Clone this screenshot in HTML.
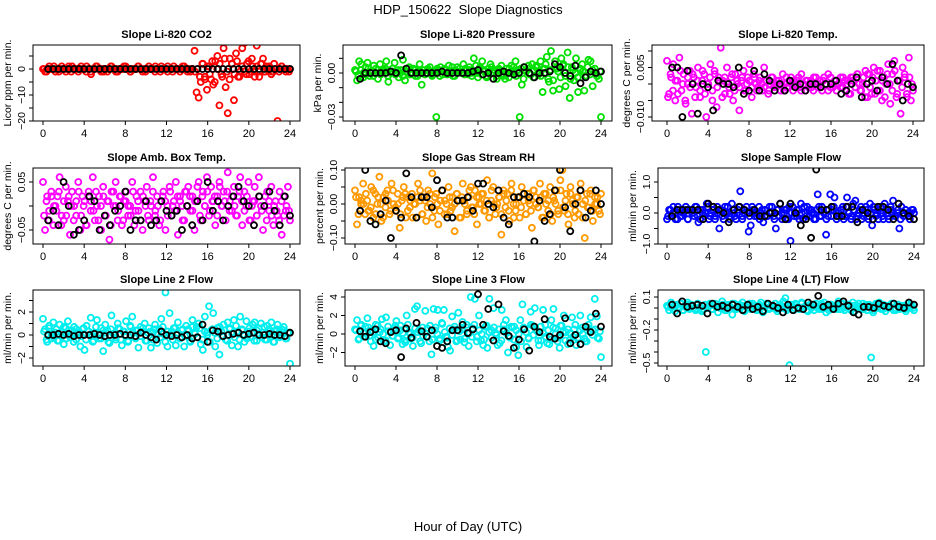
<!DOCTYPE html>
<html><head><meta charset="utf-8">
<style>
html,body{margin:0;padding:0;background:#fff;}
svg{display:block;font-family:"Liberation Sans",Arial,sans-serif;}
text{white-space:pre;}
</style></head>
<body>
<svg id="chart" width="936" height="540" viewBox="0 0 936 540">
<text x="468" y="14" text-anchor="middle" font-size="13" xml:space="preserve">HDP_150622  Slope Diagnostics</text>
<text x="468" y="531" text-anchor="middle" font-size="13">Hour of Day (UTC)</text>
</svg>
<script>
// ---- data (colored = all slopes, core = dense central slopes, black = selected slopes) ----
const xTicks = [0,4,8,12,16,20,24];
const co2Vals = [0,-1,0,1,0,0,-1,0,0,1,0,-1,0,0,1,0,0,-1,0,0,0,1,0,-1,0,0,1,0,-1,0,0,-1,0,1,0,0,-1,0,0,1,0,0,-1,0,0,0,1,0,-1,0,0,1,0,0,-1,0,0,1,0,0,-1,0,0,1,0,0,-1,0,1,0,0,-1,0,7,-9,-11,-5,2,-3,-8,1,-4,-6,3,5,-14,-2,8,-7,-17,4,2,-12,6,-3,-1,8,10,-2,3,-1,1,-3,9,-1,2,4,-1,0,1,-2,-1,0,-20,0,1,0,-1,0,0];
const co2Core = [0,-1,0,0,1,0,-1,0,0,0,1,-1,0,0,0,1,0,-1,0,-2,0,1,0,0,-1,0,0,1,0,-1,0,0,0,1,0,-1,0,0,1,0,0,-1,0,0,0,1,0,-1,0,0,1,0,-1,0,0,0,1,0,-1,0,0,-1,0,-3,2,-4,1,-2,3,-5,0,2,-3,4,-1,-4,2,-2,3,-3,1,-1,2,-2,4,-1,1,-3,2,-1,1,0,-1,2,0,-1,1,0,0,-1];
const co2Black = [0,0,0,0,0,0,0,0,0,0,0,0,0,0,0,0,0,0,0,0,0,0,0,0,0,0,0,0,0,0,0,0,0,0,0,0,0,0,0,0,0,0,0,0,0,0,0,0];
const presVals = [2,-5,8,6,-3,4,7,-2,1,5,3,-4,6,0,2,8,-6,1,3,7,0,-3,2,9,-5,1,4,0,3,-2,1,6,-8,2,0,3,1,-2,0,-30,2,4,-1,3,0,5,1,-2,2,4,1,0,6,3,-1,2,0,10,5,-3,4,8,1,-2,3,6,0,2,-4,3,1,-2,-4,0,3,5,0,8,2,-30,-8,4,1,3,-1,6,2,5,-1,8,-13,3,11,-6,15,-12,8,3,-11,10,6,-9,14,-17,4,-5,10,-13,2,6,-12,-2,9,8,-9,3,-2,-4,-30];
const presCore = [1,-2,2,0,-1,3,1,-2,0,2,-1,1,3,-2,0,1,-1,2,0,-2,1,3,-1,0,2,-2,1,0,-1,2,4,-1,0,3,-2,1,2,-1,0,4,-2,1,3,0,-1,2,4,-2,1,0,3,-1,2,-3,1,4,0,-2,2,5,-1,3,-3,1,4,-2,0,3,-4,2,5,-1,-3,4,1,-2,3,6,-4,2,-5,3,1,-3,5,-2,4,-4,2,0,-3,3,1,-2,4,-1,2,0,-2,1];
const presBlack = [-4,0,0,0,0,0,1,0,12,3,0,0,0,0,0,0,1,0,0,0,0,0,1,2,-1,0,-4,0,1,0,-1,0,4,0,-3,0,0,1,6,4,0,-2,5,-7,-3,1,0,1];
const tempVals = [7,-3,2,6,-5,1,8,-2,3,-6,0,4,-9,2,-1,5,-4,1,3,-10,0,6,-2,4,-7,2,11,1,-3,5,-1,2,-5,3,0,-8,1,4,-2,2,6,-4,3,0,-1,2,-2,5,1,-3,0,2,-1,1,0,-2,3,0,-1,1,2,-2,0,1,-1,3,0,-2,1,0,-1,2,0,-1,1,-2,2,0,3,-1,0,1,-2,0,2,-1,1,0,-3,2,1,-1,3,0,-2,2,4,-4,3,-3,5,1,-2,4,-5,2,0,6,-6,3,7,-4,1,-9,5,2,-3,8,-5,-2];
const tempCore = [-4,3,-2,1,-3,4,0,-5,2,-1,3,-4,1,-2,4,-3,0,2,-5,3,-1,1,-4,2,0,-3,3,-2,1,-1,2,-2,0,1,-1,2,-2,1,0,-1,1,-2,2,0,-1,1,0,-2,2,-1,0,1,-1,2,-2,0,1,-1,1,-2,2,0,-1,1,0,-2,2,-1,1,0,-1,2,-2,1,-3,2,-1,3,-2,0,-4,3,-1,2,-3,4,-2,1,-4,3,0,-2,4,-3,1,-1,3,-4,2,0];
const tempBlack = [5,5,-10,4,0,-9,0,-1,-8,1,0,0,-1,5,-3,-2,4,-2,3,1,-2,0,-2,1,-1,0,-2,0,0,-1,0,0,1,-3,-2,0,2,-4,0,1,-2,2,0,6,1,-5,0,-1];
const ambVals = [5,-5,2,-1,3,-4,0,2,6,-2,-3,4,1,-6,3,0,-2,5,-5,2,1,-4,3,-1,6,-3,0,2,-5,4,-2,1,-7,3,0,5,-3,2,-4,1,3,-2,0,5,-4,2,-1,3,-5,1,4,-3,0,6,-2,2,-4,1,3,-5,0,4,-2,1,5,-6,2,0,-3,3,4,-1,2,-5,1,5,-3,3,0,6,-2,4,1,-4,2,5,0,3,-3,7,1,-1,4,-2,2,6,-4,3,0,5,-3,1,4,-2,6,0,-5,2,3,-1,4,-4,1,-2,3,-6,2,-1,4,-3];
const ambCore = [-2,1,-3,2,0,-1,3,-4,1,-2,2,0,-3,1,3,-2,0,-4,2,1,-1,3,-3,0,2,-2,1,-4,3,0,-1,2,-3,1,0,-2,3,-1,1,-3,2,0,-2,1,3,-1,0,-3,2,1,-2,3,0,-1,2,1,-3,3,0,2,-1,1,4,-2,2,0,3,-1,1,2,-2,4,0,1,3,-1,2,0,-2,3,1,-1,2,-3,0,1,-2,2,-1,0,-3,1,-2,0,-1,-3,1,-2,0,-1];
const ambBlack = [-3,-1,-4,5,0,-6,-5,-3,2,1,-5,-2,-4,-1,0,3,-5,-3,-3,1,-4,-3,1,-1,-2,-1,-5,0,-4,1,-3,5,-1,1,-3,0,2,4,1,0,-4,2,0,3,-1,-4,2,-2];
const rhVals = [4,-6,2,0,6,-3,1,-2,5,-4,3,0,8,-5,2,-1,4,-3,6,0,-2,3,-7,1,5,-4,2,-1,3,0,-4,6,1,-3,2,-5,4,0,9,-2,3,-6,1,4,-3,0,5,-2,2,-8,3,1,-4,6,0,-3,2,5,-1,4,-6,2,0,3,-2,7,-4,1,5,-3,0,2,-9,4,-1,3,-5,6,0,-2,2,-4,5,1,-3,3,0,-7,4,2,-1,6,-4,3,0,-2,5,-5,1,4,-3,7,10,-2,3,-6,5,1,-4,2,-3,6,0,-10,3,-1,4,-5,2,0,-2,3];
const rhCore = [2,-3,1,0,3,-2,-1,4,-3,2,0,-4,3,1,-2,4,-1,0,-3,2,3,-2,1,-4,0,2,4,-3,1,-1,3,-4,2,0,-2,4,1,-3,2,-1,0,3,-4,2,1,-2,4,-1,-3,2,0,3,-2,1,-4,4,0,-1,2,-3,3,1,-2,4,-4,0,2,-1,3,-3,1,-2,4,0,-1,2,-4,3,1,-3,2,0,-2,4,-1,1,-3,3,0,-2,2,4,-4,1,-1,3,-2,0,2,-3];
const rhBlack = [-2,10,-5,-6,-3,1,-10,-2,-4,9,2,-4,2,2,-1,7,4,-4,-4,1,1,2,-2,6,6,0,-1,4,-4,-6,2,2,3,2,-11,1,-5,-3,4,10,-1,-8,0,4,-4,-2,4,0];
const sampleVals = [-2,1,-1,2,0,-2,1,-1,0,2,-2,1,0,-1,2,-3,1,0,-1,3,-2,0,1,-1,2,-5,1,-2,0,2,-1,3,0,-2,1,7,-1,0,2,-6,-4,1,0,-1,2,0,-3,1,-1,2,0,-1,-5,1,3,-2,0,1,-2,-9,2,0,-1,1,3,-2,0,2,-1,1,0,-2,6,-1,2,0,-7,-1,6,1,5,-2,0,1,2,-1,5,0,-2,3,4,-1,1,-2,0,2,-1,3,-4,1,0,-2,2,-1,3,0,-2,1,4,-1,0,-5,2,-1,1,0,-2,1,0];
const sampleCore = [-1,1,0,-2,2,-1,0,1,-2,1,0,2,-1,-2,1,0,2,-1,1,-2,0,1,-1,2,0,-2,1,-1,0,2,-2,1,0,-1,2,-1,0,-2,1,1,-1,0,2,-2,1,-1,0,1,-2,2,0,-1,1,-2,0,2,-1,1,0,-2,1,2,-1,0,-2,1,-1,2,0,-1,1,-2,2,0,-1,1,-2,0,2,-1,1,-2,0,2,-1,1,0,-2,1,-1,2,0,-1,1,-2,0,1,-1,0,1];
const sampleBlack = [-1,1,1,1,1,1,-2,3,2,1,0,-3,1,2,1,0,1,-1,-1,0,0,3,-2,3,0,-4,-2,-8,14,1,1,2,-1,-1,2,2,-3,1,0,-2,2,2,1,-2,3,0,-1,-2];
const line2Vals = [1.4,0.5,-0.6,0.8,-0.3,1.1,0.2,-0.5,0.9,0.3,-0.8,0.6,1.2,-0.2,0.4,0.7,-0.4,0.1,-1.0,0.5,-1.3,0.8,0.3,1.5,-0.6,0.2,1.3,-0.3,0.6,-1.4,0.9,0.4,-0.7,1.7,0.1,-0.4,1.0,0.5,-0.9,0.3,1.2,-0.6,0.8,1.6,-0.2,0.4,-1.1,0.7,0.3,1.0,-0.5,0.6,-1.1,0.2,0.9,-0.7,0.5,1.4,0.1,3.7,-1.0,1.9,0.3,0.6,-0.9,1.1,-0.3,0.4,-1.0,0.8,0.5,-0.6,1.3,0.2,0.7,1.0,-0.8,-1.3,1.6,0.2,2.5,0.4,1.9,-1.0,0.6,-1.7,0.3,0.9,-0.4,1.1,0.5,-0.9,1.3,0.8,-1.0,1.6,0.4,-0.6,1.2,0.3,-0.2,0.9,1.1,-0.5,0.6,1.0,0.2,-0.4,0.8,0.5,1.1,-0.6,0.3,0.9,-0.2,0.5,0.7,-0.3,0.2,-2.5];
const line2Core = [0.3,-0.4,0.6,0.1,-0.2,0.5,-0.5,0.2,0.7,-0.3,0.4,0.0,-0.6,0.5,0.2,-0.1,0.6,-0.4,0.3,0.1,-0.5,0.7,0.0,-0.3,0.4,0.2,-0.6,0.5,0.1,-0.2,0.6,-0.4,0.3,0.0,-0.5,0.7,0.2,-0.3,0.4,-0.1,0.6,-0.5,0.2,0.3,-0.4,0.5,0.1,-0.2,0.7,-0.6,0.3,0.0,-0.4,0.6,0.2,-0.3,0.5,-0.1,0.4,-0.5,0.7,0.1,-0.2,0.6,-0.4,0.3,0.0,-0.6,0.5,0.2,-0.3,0.7,-0.1,0.4,-0.5,0.6,0.1,-0.2,0.3,-0.4,0.5,0.0,-0.3,0.6,0.2,-0.5,0.4,0.1,-0.2,0.7,-0.4,0.3,0.0,-0.6,0.5,0.2,-0.1,0.4,-0.3,0.2];
const line2Black = [0,0,0.1,0,0.1,-0.1,0,0,0,0.1,0,-0.1,0,0,0.1,0,0,-0.1,0.2,0,-0.2,-0.4,0.3,0,-0.1,0,-0.2,0,-0.3,-0.2,0.9,-0.6,0.4,0.3,-0.1,0,0.1,0.2,0,0.1,0.2,0,0,0.1,0,0,-0.1,0.2];
const line3Vals = [0.5,1.5,-0.5,1.0,-0.3,0.8,1.7,-0.2,0.4,-1.3,-0.6,0.9,0.2,1.6,-0.8,1.8,0.3,-1.2,-0.2,0.6,1.4,-0.4,0.9,-1.1,-0.7,2.0,0.2,-0.5,-1.3,2.7,3.0,0.4,-1.0,-0.2,2.5,0.6,-0.8,-2.2,2.7,0.7,2.6,-0.5,1.2,2.6,-0.3,-1.4,-1.8,1.9,0.5,-0.8,2.3,-0.6,1.3,-0.9,1.0,-1.3,4.0,0.6,3.8,-0.3,2.0,-0.7,-1.2,0.8,-1.5,3.8,0.4,2.8,0.1,-1.2,-1.0,2.6,0.5,1.5,-2.0,-0.4,0.7,0.8,-1.4,-2.3,1.5,3.2,0.6,-1.4,-0.5,2.4,0.9,2.8,0.3,-1.2,-0.7,2.6,1.0,-1.0,-1.1,1.5,2.7,0.6,-0.8,-1.5,0.9,2.0,0.2,-1.1,-0.6,1.8,0.5,-1.2,-0.4,2.0,0.7,-0.5,-0.8,1.0,1.8,0.4,3.8,1.9,-0.5,-2.5];
const line3Core = [0.4,-0.6,0.9,0.1,-0.3,0.7,-0.8,0.2,1.0,-0.4,0.5,0.0,-0.7,0.8,0.3,-0.2,0.9,-0.5,0.4,0.1,-0.9,1.0,0.0,-0.4,0.6,0.2,-0.8,0.7,0.1,-0.3,0.9,-0.6,0.4,0.0,-0.7,1.1,0.2,-0.4,0.6,-0.1,0.8,-0.7,0.3,0.5,-0.5,0.7,0.1,-0.3,1.0,-0.8,0.4,0.0,-0.6,0.9,0.2,-0.4,0.7,-0.1,0.5,-0.7,1.0,0.1,-0.3,0.8,-0.6,0.4,0.0,-0.8,0.7,0.2,-0.4,1.0,-0.1,0.5,-0.7,0.8,0.1,-0.3,0.4,-0.6,0.7,0.0,-0.4,0.9,0.2,-0.7,0.5,0.1,-0.3,1.0,-0.5,0.4,0.0,-0.8,0.7,0.2,-0.1,0.5,-0.4,0.3];
const line3Black = [0.3,-0.3,0.2,0.5,-0.8,-1.0,0.2,0.4,-2.5,0.6,-0.4,1.2,0.3,-0.3,0.4,-1.3,-1.5,-0.8,0.4,0.4,1.0,0.1,0.5,4.3,1.0,2.7,-0.7,3.2,0.3,-0.2,-1.5,-0.6,0.5,-1.8,0.8,0.2,1.6,-0.3,-0.5,-0.1,1.7,-1.0,-0.1,-1.1,0.8,0.2,2.2,0.8];
const line4Vals = [2,-2,5,1,-3,3,0,4,-2,2,5,-1,3,0,-2,4,1,-3,-1,-40,0,4,-1,3,1,-4,2,6,0,-2,3,1,-6,4,-1,2,0,5,-3,1,3,-1,4,0,-2,2,5,-4,1,3,-1,2,0,4,-3,1,2,6,9,0,-52,3,-2,4,1,-1,5,0,2,-3,3,1,-2,4,0,2,-1,5,-4,1,3,0,2,-1,6,-1,4,-2,1,3,0,5,-3,2,1,-1,4,0,-2,3,-45,-4,2,0,5,-1,3,-3,2,1,4,-2,0,3,-1,2,1,-3,4,0,2,-2];
const line4Core = [1,3,-1,2,0,4,-2,1,3,0,2,-1,4,1,-2,3,0,2,-1,4,1,0,3,-2,2,1,4,-1,0,3,2,-2,1,4,0,2,-1,3,1,-2,4,0,2,1,-1,3,0,4,-2,1,2,0,3,-1,4,1,-2,2,0,3,1,-1,4,2,0,-2,3,1,2,-1,4,0,1,3,-2,2,0,4,1,-1,3,2,0,-2,4,1,3,-1,2,0,1,4,-2,3,0,2,-1,1,3,0];
const line4Black = [3,-5,6,1,2,3,2,-5,4,1,2,0,3,1,-2,3,-1,1,-3,4,2,0,-4,3,-2,0,-1,5,3,11,1,3,-1,4,6,2,-4,-6,1,1,0,4,2,1,4,1,0,5,3];

const svg = document.getElementById('chart');
const NS = 'http://www.w3.org/2000/svg';
function mk(tag, attrs){ const e=document.createElementNS(NS,tag); for(const k in attrs) e.setAttribute(k,attrs[k]); return e; }

const panels = [
 {key:'co2',title:'Slope Li-820 CO2',yl:'Licor ppm per min.',box:[33,45,300,121],x0:43,x24:290,ya:[0,69],yb:[-20,121],scale:1,ticks:[5,0,-5,-10,-15,-20],labs:{'0':'0','-10':'\u221210','-20':'\u221220'},col:'#ff0000',vals:co2Vals,core:co2Core,blk:co2Black},
 {key:'pressure',title:'Slope Li-820 Pressure',yl:'kPa per min.',box:[343,45,612,121],x0:355,x24:601,ya:[0,73],yb:[-0.03,117],scale:0.001,ticks:[0.01,0,-0.01,-0.02,-0.03],labs:{'0':'0.00','-0.03':'\u22120.03'},col:'#00e000',vals:presVals,core:presCore,blk:presBlack},
 {key:'temp',title:'Slope Li-820 Temp.',yl:'degrees C per min.',box:[652,45,924,121],x0:667,x24:913,ya:[0,84],yb:[-0.01,117],scale:0.001,ticks:[0.01,0.005,0,-0.005,-0.01],labs:{'0.005':'0.005','-0.01':'\u22120.010'},col:'#ff00ff',vals:tempVals,core:tempCore,blk:tempBlack},
 {key:'amb',title:'Slope Amb. Box Temp.',yl:'degrees C per min.',box:[33,168,300,244],x0:43,x24:290,ya:[0,206],yb:[0.05,182],scale:0.01,ticks:[0.05,0,-0.05],labs:{'0.05':'0.05','-0.05':'\u22120.05'},col:'#ff00ff',vals:ambVals,core:ambCore,blk:ambBlack},
 {key:'rh',title:'Slope Gas Stream RH',yl:'percent per min.',box:[345,168,612,244],x0:355,x24:601,ya:[0,204],yb:[0.1,170],scale:0.01,ticks:[0.1,0.05,0,-0.05,-0.1],labs:{'0.1':'0.10','0':'0.00','-0.1':'\u22120.10'},col:'#ff9900',vals:rhVals,core:rhCore,blk:rhBlack},
 {key:'sample',title:'Slope Sample Flow',yl:'ml/min per min.',box:[658,168,924,244],x0:667,x24:914,ya:[0,213],yb:[1,182],scale:0.1,ticks:[1,0.5,0,-0.5,-1],labs:{'1':'1.0','0':'0.0','-1':'\u22121.0'},col:'#0000ff',vals:sampleVals,core:sampleCore,blk:sampleBlack},
 {key:'line2',title:'Slope Line 2 Flow',yl:'ml/min per min.',box:[33,290,300,366],x0:43,x24:290,ya:[0,335],yb:[2,312],scale:1,ticks:[3,2,1,0,-1,-2],labs:{'2':'2','0':'0','-2':'\u22122'},col:'#00eeee',vals:line2Vals,core:line2Core,blk:line2Black},
 {key:'line3',title:'Slope Line 3 Flow',yl:'ml/min per min.',box:[345,290,612,366],x0:355,x24:601,ya:[0,334],yb:[4,297],scale:1,ticks:[4,2,0,-2],labs:{'4':'4','2':'2','0':'0','-2':'\u22122'},col:'#00eeee',vals:line3Vals,core:line3Core,blk:line3Black},
 {key:'line4',title:'Slope Line 4 (LT) Flow',yl:'ml/min per min.',box:[658,290,924,366],x0:667,x24:914,ya:[0.1,297],yb:[-0.5,363],scale:0.01,ticks:[0.1,0,-0.1,-0.2,-0.3,-0.4,-0.5],labs:{'0.1':'0.1','-0.2':'\u22120.2','-0.5':'\u22120.5'},col:'#00eeee',vals:line4Vals,core:line4Core,blk:line4Black}
];

panels.forEach(p=>{
  const [L,T,R,B]=p.box;
  const g=mk('g',{});
  
  
  svg.appendChild(g);
  const xs=h=>p.x0+(p.x24-p.x0)*h/24;
  const ys=v=>p.ya[1]+(v-p.ya[0])*(p.yb[1]-p.ya[1])/(p.yb[0]-p.ya[0]);
  const cx=(L+R)/2;
  const t=mk('text',{x:cx,y:T-7,'text-anchor':'middle','font-size':11,'font-weight':'bold'});
  t.textContent=p.title;
  
  
  g.appendChild(t);
  const cid='clip-'+p.key;
  const cp=mk('clipPath',{id:cid}); cp.appendChild(mk('rect',{x:L,y:T,width:R-L,height:B-T})); g.appendChild(cp);
  const pts=mk('g',{'clip-path':'url(#'+cid+')'}); g.appendChild(pts);
  const nc=p.core.length;
  p.core.forEach((v,i)=>{
    const h=0.1+i*23.8/(nc-1);
    const c=mk('circle',{cx:xs(h),cy:ys(v*p.scale),r:3,fill:'none',stroke:p.col,'stroke-width':1.8});
    
    
    pts.appendChild(c);
  });
  const n=p.vals.length;
  p.vals.forEach((v,i)=>{
    const h=i*24/(n-1);
    const c=mk('circle',{cx:xs(h),cy:ys(v*p.scale),r:3,fill:'none',stroke:p.col,'stroke-width':1.8});
    
    
    pts.appendChild(c);
  });
  const nb=p.blk.length;
  p.blk.forEach((v,i)=>{
    const h=0.5+i*23.5/(nb-1);
    const c=mk('circle',{cx:xs(h),cy:ys(v*p.scale),r:3,fill:'none',stroke:'#000','stroke-width':1.8});
    
    
    pts.appendChild(c);
  });
  const box=mk('rect',{x:L,y:T,width:R-L,height:B-T,fill:'none',stroke:'#000','stroke-width':1});
  
  
  g.appendChild(box);
  xTicks.forEach(h=>{
    const x=xs(h);
    g.appendChild(mk('line',{x1:x,y1:B,x2:x,y2:B+4,stroke:'#000'}));
    const tl=mk('text',{x:x,y:B+16,'text-anchor':'middle','font-size':11});
    tl.textContent=h;
    
    
    g.appendChild(tl);
  });
  p.ticks.forEach(v=>{
    const y=ys(v);
    g.appendChild(mk('line',{x1:L,y1:y,x2:L-4,y2:y,stroke:'#000'}));
    const key=String(v);
    if(p.labs[key]){
      const tl=mk('text',{x:0,y:0,'text-anchor':'middle','font-size':10.5,transform:`translate(${L-8},${y}) rotate(-90)`});
      tl.textContent=p.labs[key];
      
      
      g.appendChild(tl);
    }
  });
  const yl=mk('text',{x:0,y:0,'text-anchor':'middle','font-size':10.5,transform:`translate(${L-22},${(T+B)/2}) rotate(-90)`});
  yl.textContent=p.yl;
  
  
  g.appendChild(yl);
});
</script>
</body></html>
